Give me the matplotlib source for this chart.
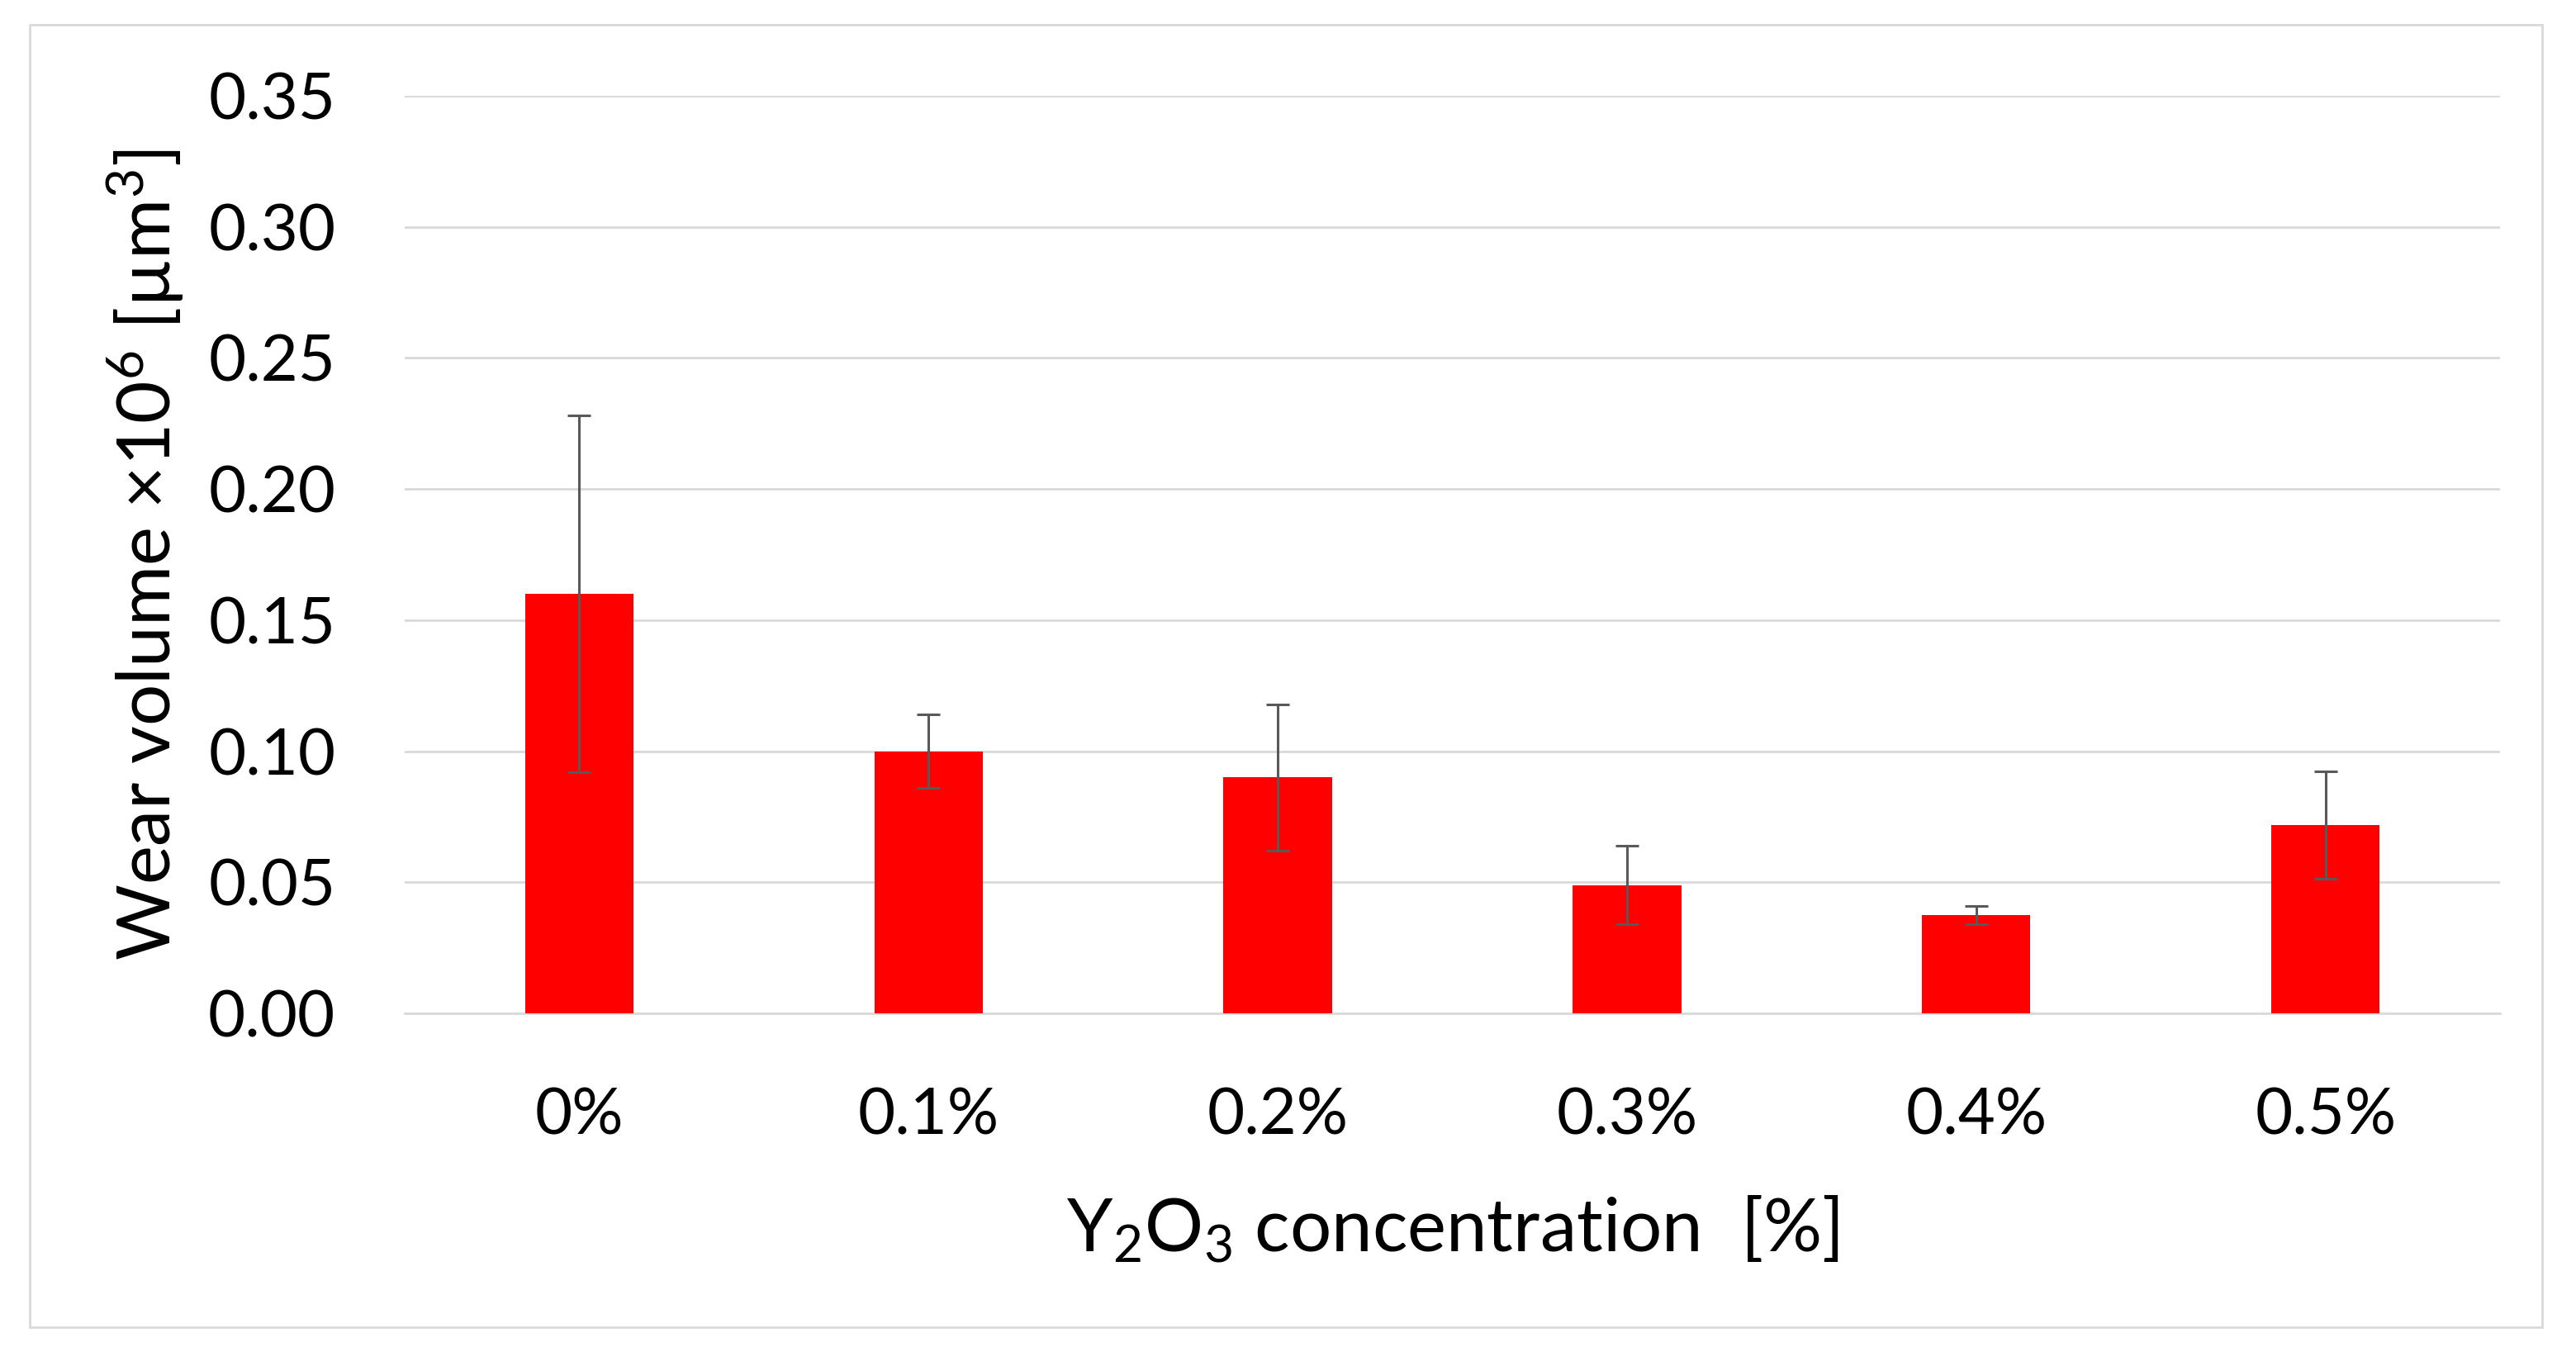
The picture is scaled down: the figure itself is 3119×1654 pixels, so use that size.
import numpy as np
import matplotlib
matplotlib.use("Agg")
import matplotlib.pyplot as plt
from matplotlib.patches import Rectangle

# data
categories = ["0%", "0.1%", "0.2%", "0.3%", "0.4%", "0.5%"]
wear_volume = [0.160, 0.100, 0.090, 0.049, 0.0375, 0.072]
wear_err = [0.068, 0.014, 0.028, 0.015, 0.0035, 0.0205]
y_ticks = [0.00, 0.05, 0.10, 0.15, 0.20, 0.25, 0.30, 0.35]

plt.rcParams['font.family'] = ['Lato', 'DejaVu Sans']
plt.rcParams['mathtext.fontset'] = 'custom'
plt.rcParams['mathtext.rm'] = 'Lato'
plt.rcParams['mathtext.it'] = 'Lato'
plt.rcParams['mathtext.default'] = 'rm'

fig = plt.figure(figsize=(31.19, 16.54), dpi=100)
ax = fig.add_axes([0.157, 0.258, 0.8136, 0.672])

# light frame around the whole chart, like the Excel chart area
fig.patches.append(Rectangle((0.0115, 0.0284), 0.9755, 0.9536, transform=fig.transFigure,
                             fill=False, edgecolor="#d9d9d9", linewidth=2))

x = np.arange(len(categories))
ax.bar(x, wear_volume, width=0.31, color="#ff0000", zorder=3)
ax.errorbar(x, wear_volume, yerr=wear_err, fmt="none", ecolor="#595959",
            elinewidth=2.2, capsize=10, capthick=2.2, zorder=4)

ax.set_xlim(-0.5, len(categories) - 0.5)
ax.set_ylim(0, 0.35)
ax.set_yticks(y_ticks)
ax.set_yticklabels([f"{t:.2f}" for t in y_ticks], fontsize=56)
ax.set_xticks(x)
ax.set_xticklabels(categories, fontsize=56)

ax.yaxis.grid(True, color="#d9d9d9", linewidth=2, zorder=0)
ax.set_axisbelow(True)
for s in ["top", "right", "left"]:
    ax.spines[s].set_visible(False)
ax.spines["bottom"].set_color("#d9d9d9")
ax.spines["bottom"].set_linewidth(2)
ax.tick_params(axis="y", length=0, pad=60)
ax.tick_params(axis="x", length=0, pad=64)

ax.set_ylabel(r"Wear volume ×10$^{6}$ [µm$^{3}$]", fontsize=64, labelpad=20)
ax.set_xlabel(r"Y$_2$O$_3$ concentration  [%]", fontsize=64, labelpad=42)

fig.savefig("out.png", dpi=100, facecolor="white")
